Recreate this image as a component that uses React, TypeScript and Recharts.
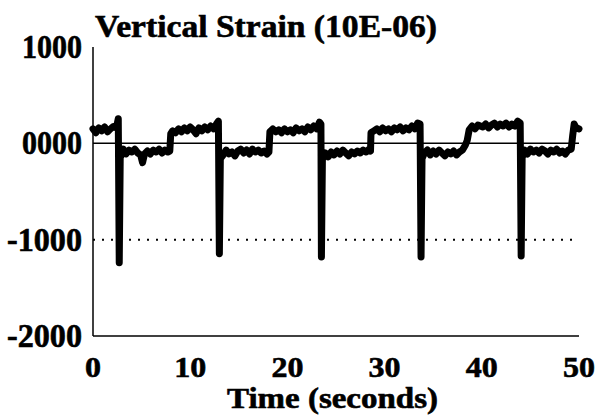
import React from "react";
import {
  LineChart,
  Line,
  XAxis,
  YAxis,
  ReferenceLine,
} from "recharts";

// [time (s), strain (10E-06)]
const strainTrace: [number, number][] = [
  [0, 150], [0.3, 110], [0.6, 160], [0.9, 130], [1.2, 170], [1.5, 120], [1.8, 150], [2.1, 175], [2.4, 160], [2.6, 255],
  [2.7, -1240], [2.8, -150],
  [3.1, -60], [3.4, -110], [3.7, -70], [4.0, -90], [4.3, -60], [4.6, -100], [4.9, -120], [5.1, -200], [5.3, -110],
  [5.6, -80], [5.9, -110], [6.2, -70], [6.5, -90], [6.8, -60], [7.1, -100], [7.4, -70], [7.7, -90], [7.9, -80],
  [8.0, 100], [8.2, 130], [8.5, 110], [8.8, 150], [9.1, 120], [9.4, 160], [9.7, 130], [10.0, 170], [10.3, 140],
  [10.6, 100], [10.9, 160], [11.2, 130], [11.5, 170], [11.8, 140], [12.1, 180], [12.4, 150], [12.7, 200], [12.9, 230],
  [13.0, -1145], [13.1, -160],
  [13.4, -120], [13.7, -70], [14.0, -110], [14.3, -90], [14.6, -130], [14.9, -80], [15.2, -60], [15.5, -100],
  [15.8, -70], [16.1, -110], [16.4, -60], [16.7, -90], [17.0, -70], [17.3, -100], [17.6, -80], [17.9, -110], [18.1, -90],
  [18.2, 120], [18.5, 150], [18.8, 120], [19.1, 140], [19.4, 110], [19.7, 150], [20.0, 120], [20.3, 140], [20.6, 110],
  [20.9, 160], [21.2, 130], [21.5, 150], [21.8, 120], [22.1, 170], [22.4, 140], [22.7, 180], [23.0, 150], [23.3, 220], [23.45, 200],
  [23.5, -1180], [23.6, -170],
  [23.9, -100], [24.2, -140], [24.5, -90], [24.8, -120], [25.1, -80], [25.4, -110], [25.7, -70], [26.0, -100],
  [26.3, -130], [26.6, -90], [26.9, -110], [27.2, -80], [27.5, -100], [27.8, -70], [28.1, -90], [28.4, -60], [28.55, -80],
  [28.6, 110], [28.9, 130], [29.2, 150], [29.5, 120], [29.8, 160], [30.1, 130], [30.4, 150], [30.7, 120], [31.0, 160],
  [31.3, 140], [31.6, 170], [31.9, 130], [32.2, 160], [32.5, 140], [32.8, 180], [33.1, 150], [33.4, 210], [33.65, 200],
  [33.75, -1180], [33.85, -160],
  [34.1, -100], [34.4, -70], [34.7, -120], [35.0, -80], [35.3, -110], [35.6, -70], [35.9, -100], [36.2, -130],
  [36.5, -90], [36.8, -110], [37.1, -80], [37.4, -120], [37.7, -90], [38.0, -70], [38.3, -20], [38.5, 30], [38.7, 140],
  [39.0, 180], [39.3, 150], [39.6, 190], [40.1, 170], [40.4, 200], [40.7, 160], [41.0, 190], [41.3, 210], [41.6, 170],
  [41.9, 200], [42.2, 180], [42.5, 210], [42.8, 170], [43.1, 200], [43.4, 180], [43.7, 230], [43.95, 210],
  [44.05, -1170], [44.15, -150],
  [44.4, -70], [44.7, -110], [45.0, -60], [45.3, -90], [45.6, -70], [45.9, -100], [46.2, -60], [46.5, -80],
  [46.8, -110], [47.1, -70], [47.4, -90], [47.7, -60], [48.0, -100], [48.3, -80], [48.6, -110], [48.9, -70], [49.2, -60],
  [49.35, 80], [49.5, 200], [49.7, 160], [50, 150],
];

const xTicks = [0, 10, 20, 30, 40, 50];
const yTicks = [-2000, -1000, 0, 1000];
const yTickLabels: Record<number, string> = {
  "-2000": "-2000",
  "-1000": "-1000",
  "0": "0000",
  "1000": "1000",
};

const title = "Vertical Strain (10E-06)";
const xTitle = "Time (seconds)";

const data = strainTrace.map(([t, v]) => ({ t, v }));

const FONT = "'Liberation Serif', 'DejaVu Serif', serif";

const YTick = (props: any) => {
  const { y, payload } = props;
  const label = yTickLabels[payload.value];
  return (
    <text
      x={82}
      y={y + 11}
      textAnchor="end"
      fontFamily={FONT}
      fontWeight="bold"
      fontSize={33}
      fill="#000"
      stroke="#000"
      strokeWidth={0.6}
      textLength={label.length * 15}
      lengthAdjust="spacingAndGlyphs"
    >
      {label}
    </text>
  );
};

const XTick = (props: any) => {
  const { x, y, payload } = props;
  const label = String(payload.value);
  return (
    <text
      x={x}
      y={y + 33}
      textAnchor="middle"
      fontFamily={FONT}
      fontWeight="bold"
      fontSize={30}
      fill="#000"
      stroke="#000"
      strokeWidth={0.6}
      textLength={label.length * 16}
      lengthAdjust="spacingAndGlyphs"
    >
      {label}
    </text>
  );
};

export default function App() {
  return (
    <div style={{ position: "absolute", left: 0, top: 0, width: 595, height: 415, background: "#fff" }}>
      <LineChart
        width={595}
        height={415}
        data={data}
        margin={{ top: 47, right: 16, left: 0, bottom: 0 }}
      >
        <XAxis
          dataKey="t"
          type="number"
          domain={[0, 50]}
          ticks={xTicks}
          tick={<XTick />}
          tickLine={false}
          axisLine={{ stroke: "#000", strokeWidth: 1.5 }}
          height={79}
          interval={0}
        />
        <XAxis
          xAxisId="top"
          orientation="top"
          dataKey="t"
          type="number"
          domain={[0, 50]}
          tick={false}
          tickLine={false}
          axisLine={{ stroke: "#000", strokeWidth: 1.5 }}
          height={0}
        />
        <YAxis
          type="number"
          domain={[-2000, 1000]}
          ticks={yTicks}
          tick={<YTick />}
          tickLine={false}
          axisLine={{ stroke: "#000", strokeWidth: 1.5 }}
          width={93}
          interval={0}
        />
        <YAxis
          yAxisId="right"
          orientation="right"
          type="number"
          domain={[-2000, 1000]}
          tick={false}
          tickLine={false}
          axisLine={{ stroke: "#000", strokeWidth: 1 }}
          width={0}
        />
        <ReferenceLine y={0} stroke="#000" strokeWidth={1.5} />
        <ReferenceLine y={-1000} stroke="#000" strokeWidth={2} strokeDasharray="2 7" />
        <Line
          type="linear"
          dataKey="v"
          stroke="#000"
          strokeWidth={7}
          strokeLinejoin="round"
          strokeLinecap="round"
          dot={false}
          isAnimationActive={false}
        />
      </LineChart>
      <svg
        width={595}
        height={415}
        style={{ position: "absolute", left: 0, top: 0, pointerEvents: "none" }}
      >
        <text
          x={95}
          y={37}
          fontFamily={FONT}
          fontWeight="bold"
          fontSize={31}
          fill="#000"
          stroke="#000"
          strokeWidth={0.6}
          textLength={342}
          lengthAdjust="spacingAndGlyphs"
        >
          {title}
        </text>
        <text
          x={227}
          y={408}
          fontFamily={FONT}
          fontWeight="bold"
          fontSize={29}
          fill="#000"
          stroke="#000"
          strokeWidth={0.6}
          textLength={211}
          lengthAdjust="spacingAndGlyphs"
        >
          {xTitle}
        </text>
      </svg>
    </div>
  );
}
